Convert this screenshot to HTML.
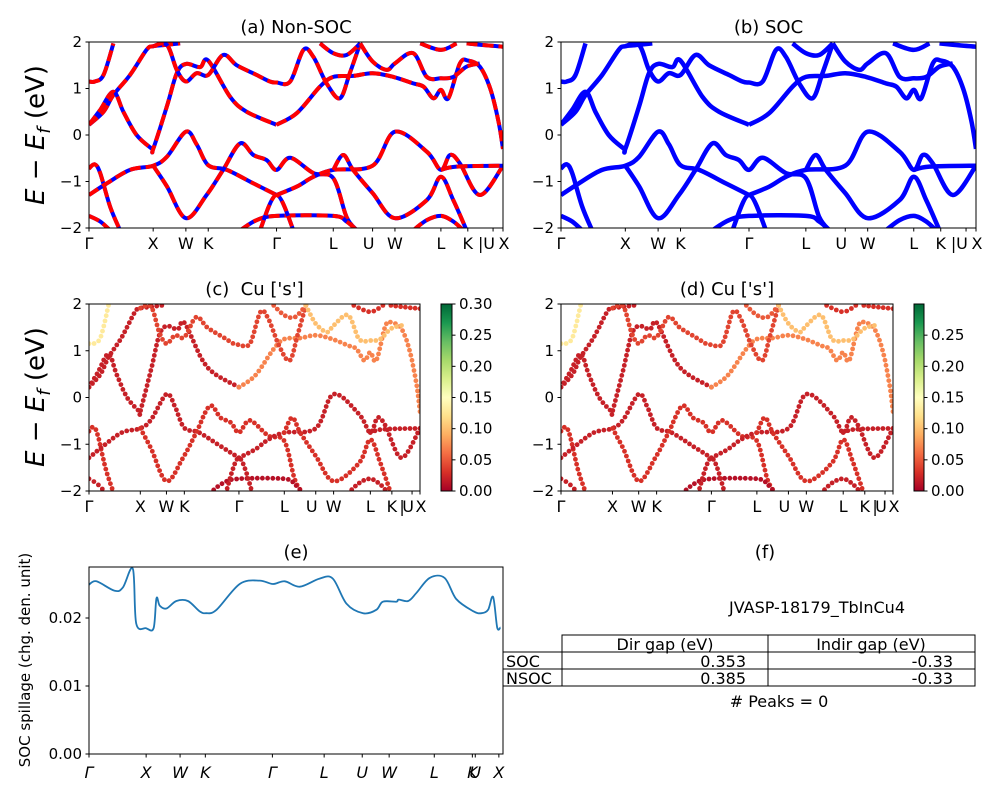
<!DOCTYPE html>
<html><head><meta charset="utf-8">
<style>
html,body{margin:0;padding:0;background:#fff;}
svg{display:block;font-family:"DejaVu Sans","Liberation Sans",sans-serif;}
</style></head>
<body>
<svg id="fig" width="1000" height="800" viewBox="0 0 1000 800" xmlns="http://www.w3.org/2000/svg">
<defs>
<linearGradient id="rdylgn" x1="0" y1="1" x2="0" y2="0">
<stop offset="0" stop-color="#a50026"/><stop offset="0.1" stop-color="#d73027"/><stop offset="0.2" stop-color="#f46d43"/><stop offset="0.3" stop-color="#fdae61"/><stop offset="0.4" stop-color="#fee08b"/><stop offset="0.5" stop-color="#ffffbf"/><stop offset="0.6" stop-color="#d9ef8b"/><stop offset="0.7" stop-color="#a6d96a"/><stop offset="0.8" stop-color="#66bd63"/><stop offset="0.9" stop-color="#1a9850"/><stop offset="1" stop-color="#006837"/>
</linearGradient>
</defs>
</svg>
<script>
// ---- data ----
const kTickPos = [0, .155, .234, .288, .453, .590, .685, .739, .850, .915, .946, .976, 1];
const kTickLabels = ["Γ","X","W","K","Γ","L","U","W","L","K","|","U","X"];
const eTicks = [2, 1, 0, -1, -2];
const eTickLabels = ["2","1","0","−1","−2"];

const bandK = [
 [0,.014,.027,.051,.075],
 [0,.043,.099,.155,.188,.234,.26,.288,.333,.397,.453],
 [.155,.188,.234,.284,.324,.365,.397,.429,.453,.486,.542,.59,.622,.647],
 [.453,.502,.542,.59,.685,.739,.816,.85,.872,.896,.944,1],
 [.59,.614,.638,.685,.739,.816,.85,.88,.912],
 [.85,.888,1],
 [0,.027,.051],
 [.365,.405,.453,.59,.622,.647],
 [.413,.453,.494],
 [.783,.816,.85,.88,.904],
 [0,.035,.059,.099,.139,.155,.188,.22],
 [0,.027,.059,.083,.115,.151,.155,.188,.212,.234,.268,.288,.341,.381,.453],
 [.453,.502,.558,.59,.638,.685,.735,.783,.808,.832,.85,.868,.896,.916,.944,.969,.989,1],
 [0,.014,.035,.059],
 [.155,.188,.212,.234,.26,.288,.324,.357,.405,.437,.453,.486,.518,.542,.574,.606,.63,.655],
 [.558,.59,.622,.655],
 [.655,.685,.719,.739,.783,.816,.85,.88,.912,.944],
 [.8,.85,.888],
 [.912,.944,1]
];
const bandE = [
 [-.72,-.63,-.82,-1.54,-2.05],
 [-1.29,-1.04,-.75,-.66,-.47,.07,-.2,-.65,-.75,-1.04,-1.29],
 [-.66,-1.1,-1.79,-1.29,-.75,-.18,-.43,-.54,-.75,-.49,-.82,-.93,-1.76,-2.05],
 [-1.29,-1.11,-.9,-.75,-.66,.07,-.36,-.75,-.43,-.61,-1.29,-.66],
 [-.75,-.43,-.75,-1.25,-1.79,-1.4,-.9,-1.4,-2.05],
 [-.75,-.68,-.66],
 [-1.74,-1.86,-2.05],
 [-2.05,-1.83,-1.74,-1.74,-1.86,-2.05],
 [-2.05,-1.29,-2.05],
 [-2.05,-1.83,-1.74,-1.86,-2.05],
 [.22,.5,.86,1.29,1.83,1.91,1.94,1.97],
 [.22,.54,.93,.5,0,-.29,-.3,.61,1.33,1.53,1.46,1.6,.82,.5,.22],
 [.22,.47,1.04,1.25,1.27,1.33,1.25,1.11,1.04,.79,.97,.79,1.54,1.6,1.47,1.0,.3,-.3],
 [1.15,1.15,1.29,1.97],
 [1.91,1.94,1.4,1.15,1.33,1.29,1.72,1.5,1.29,1.15,1.13,1.15,1.83,1.68,1.11,.79,1.33,1.97],
 [1.97,1.76,1.72,1.97],
 [1.97,1.58,1.4,1.54,1.76,1.25,1.22,1.25,1.47,1.54],
 [1.97,1.83,1.97],
 [1.97,1.94,1.9]
];
const bandWeight = [.03,.02,.03,.02,.03,.02,.02,.01,.02,.02,.02,.02,.07,.13,.04,.05,.10,.03,.03];

const spillK = [0,.018,.062,.082,.106,.114,.138,.156,.163,.171,.187,.211,.239,.267,.283,.308,.364,.412,.444,.473,.509,.557,.589,.622,.662,.694,.710,.742,.748,.771,.791,.823,.859,.887,.928,.948,.964,.976,.986,.994];
const spillV = [.0249,.0254,.0240,.0245,.0272,.0192,.0185,.0185,.0229,.0218,.0214,.0225,.0225,.0210,.0207,.0212,.0250,.0255,.0250,.0254,.0246,.0258,.0258,.0221,.0207,.0212,.0224,.0224,.0227,.0225,.0237,.0259,.0259,.0228,.0210,.0207,.0212,.0231,.0186,.0186];
const spillTicks = [0, .01, .02];
const spillTickLabels = ["0.00","0.01","0.02"];
const spillKTickPos = [0,.138,.22,.281,.443,.568,.660,.725,.834,.926,.933,.99];
const spillKTickLabels = ["Γ","X","W","K","Γ","L","U","W","L","K","U","X"];

// ---- helpers ----
const NS="http://www.w3.org/2000/svg";
const svg=document.getElementById("fig");
function mk(tag,attrs,parent){const e=document.createElementNS(NS,tag);for(const k in attrs)e.setAttribute(k,attrs[k]);(parent||svg).appendChild(e);return e;}
function txt(s,x,y,size,anchor,parent,extra){const t=mk("text",Object.assign({x:x,y:y,"font-size":size,"text-anchor":anchor||"middle",fill:"#000"},extra||{}),parent);t.textContent=s;return t;}
function smooth(pts){if(pts.length<2)return"";let d="M"+pts[0][0].toFixed(1)+","+pts[0][1].toFixed(1);
 for(let i=0;i<pts.length-1;i++){const p0=pts[i-1]||pts[i],p1=pts[i],p2=pts[i+1],p3=pts[i+2]||p2;
  const c1=[p1[0]+(p2[0]-p0[0])/6,p1[1]+(p2[1]-p0[1])/6],c2=[p2[0]-(p3[0]-p1[0])/6,p2[1]-(p3[1]-p1[1])/6];
  d+=" C"+c1[0].toFixed(1)+","+c1[1].toFixed(1)+" "+c2[0].toFixed(1)+","+c2[1].toFixed(1)+" "+p2[0].toFixed(1)+","+p2[1].toFixed(1);}
 return d;}
const cmapStops=[[0,[165,0,38]],[.1,[215,48,39]],[.2,[244,109,67]],[.3,[253,174,97]],[.4,[254,224,139]],[.5,[255,255,191]],[.6,[217,239,139]],[.7,[166,217,106]],[.8,[102,189,99]],[.9,[26,152,80]],[1,[0,104,55]]];
function cmap(t){t=Math.max(0,Math.min(1,t));for(let i=0;i<cmapStops.length-1;i++){const a=cmapStops[i],b=cmapStops[i+1];if(t<=b[0]){const f=(t-a[0])/(b[0]-a[0]);return"rgb("+a[1].map((v,j)=>Math.round(v+(b[1][j]-v)*f)).join(",")+")";}}return"rgb(0,104,55)";}

function bandPanel(name,x0,x1,y0,y1,mode,title,vmax){
 const g=mk("g",{});
 
 
 const sx=k=>x0+k*(x1-x0), sy=e=>y1-(e+2)/4*(y1-y0);
 const cid="clip-"+name;
 const cp=mk("clipPath",{id:cid},g);mk("rect",{x:x0,y:y0,width:x1-x0,height:y1-y0},cp);
 const plot=mk("g",{"clip-path":"url(#"+cid+")"},g);
 
 
 for(let b=0;b<bandK.length;b++){
  const pts=bandK[b].map((k,i)=>[sx(k),sy(bandE[b][i])]);
  const d=smooth(pts);
  if(mode==="dash"){
   const p1=mk("path",{d:d,fill:"none",stroke:"#0000ff","stroke-width":4},plot);
   
   
   const p2=mk("path",{d:d,fill:"none",stroke:"#ff0000","stroke-width":4,"stroke-dasharray":"11,5"},plot);
   
   
  }else if(mode==="solid"){
   const p=mk("path",{d:d,fill:"none",stroke:"#0000ff","stroke-width":4.5},plot);
   
   
  }else{
   const tmp=mk("path",{d:d,fill:"none",stroke:"none"},plot);
   const L=tmp.getTotalLength();const n=Math.max(2,Math.round(L/5.2));
   for(let i=0;i<=n;i++){const p=tmp.getPointAtLength(L*i/n);
    const c=mk("circle",{cx:p.x.toFixed(1),cy:p.y.toFixed(1),r:2.4,fill:cmap(bandWeight[b]/vmax)},plot);
    
    }
   plot.removeChild(tmp);
  }
 }
 mk("rect",{x:x0,y:y0,width:x1-x0,height:y1-y0,fill:"none",stroke:"#000","stroke-width":1},g);
 kTickPos.forEach((k,i)=>{const x=sx(k);const lab=kTickLabels[i];
  if(lab!=="|")mk("line",{x1:x,y1:y1,x2:x,y2:y1+3.5,stroke:"#000"},g);
  let tx=x;
  if(lab==="U")tx=x-4; if(lab==="X"&&k===1)tx=x+1;
  const t=txt(lab,tx,y1+21,16,"middle",g);
  
  });
 eTicks.forEach((e,i)=>{const y=sy(e);mk("line",{x1:x0-3.5,y1:y,x2:x0,y2:y,stroke:"#000"},g);
  const t=txt(eTickLabels[i],x0-7,y+5,15,"end",g);
  
  });
 const tt=txt(title,(x0+x1)/2,y0-9,18,"middle",g);
 
 
 return g;
}

function colorbar(name,x0,x1,y0,y1,vmax,ticks){
 const g=mk("g",{});
 
 
 mk("rect",{x:x0,y:y0,width:x1-x0,height:y1-y0,fill:"url(#rdylgn)",stroke:"#000","stroke-width":1},g);
 ticks.forEach(v=>{const y=y1-v/vmax*(y1-y0);mk("line",{x1:x1,y1:y,x2:x1+3.5,y2:y,stroke:"#000"},g);
  const t=txt(v.toFixed(2),x1+7,y+5,15,"start",g);
  
  });
}

bandPanel("panel-a-non-soc",89,503,42,228,"dash","(a) Non-SOC");
bandPanel("panel-b-soc",561,976,42,228,"solid","(b) SOC");
bandPanel("panel-c-cu-s",89,420,304,491,"dots","(c)\u00a0\u00a0Cu ['s']",0.30);
bandPanel("panel-d-cu-s",561,893,304,491,"dots","(d) Cu ['s']",0.30);
colorbar("colorbar-c",441,452,304,491,0.30,[0,.05,.10,.15,.20,.25,.30]);
colorbar("colorbar-d",914,924,304,491,0.30,[0,.05,.10,.15,.20,.25]);

// y axis titles
[135,397].forEach(cy=>{const t=mk("text",{x:0,y:0,"font-size":26,"text-anchor":"middle",transform:"translate(44,"+cy+") rotate(-90)"});
 
 
 t.innerHTML='<tspan font-style="italic">E</tspan> − <tspan font-style="italic">E</tspan><tspan font-style="italic" font-size="18" dy="6">f</tspan><tspan dy="-6"> (eV)</tspan>';});

// panel e
(function(){
 const x0=89,x1=503,y0=567,y1=754,vmax=0.0275;
 const g=mk("g",{});
 
 
 const sx=k=>x0+k*(x1-x0), sy=v=>y1-v/vmax*(y1-y0);
 const d=smooth(spillK.map((k,i)=>[sx(k),sy(spillV[i])]));
 const p=mk("path",{d:d,fill:"none",stroke:"#1f77b4","stroke-width":1.8,"stroke-linejoin":"round"},g);
 
 
 mk("rect",{x:x0,y:y0,width:x1-x0,height:y1-y0,fill:"none",stroke:"#000"},g);
 spillTicks.forEach((v,i)=>{const y=sy(v);mk("line",{x1:x0-3.5,y1:y,x2:x0,y2:y,stroke:"#000"},g);
  const t=txt(spillTickLabels[i],x0-7,y+5,15,"end",g);
  
  });
 spillKTickPos.forEach((k,i)=>{const x=sx(k);mk("line",{x1:x,y1:y1,x2:x,y2:y1+3.5,stroke:"#000"},g);
  const t=txt(spillKTickLabels[i],x,y1+24,16,"middle",g,{"font-style":"italic"});
  
  });
 const tt=txt("(e)",(x0+x1)/2,y0-9,18,"middle",g);
 
 
 const yt=mk("text",{x:0,y:0,"font-size":15,"text-anchor":"middle",transform:"translate(30,660) rotate(-90)"},g);
 yt.textContent="SOC spillage (chg. den. unit)";
 
 
})();

// panel f table
(function(){
 const g=mk("g",{});
 
 
 let t=txt("(f)",765,558,18,"middle",g);
 
 
 t=txt("JVASP-18179_TbInCu4",817,613,16,"middle",g);
 
 
 const L="#000";
 mk("rect",{x:562,y:635,width:206,height:17,fill:"none",stroke:L},g);
 mk("rect",{x:768,y:635,width:207,height:17,fill:"none",stroke:L},g);
 [[652,"SOC","0.353","-0.33"],[669,"NSOC","0.385","-0.33"]].forEach(r=>{
  mk("rect",{x:503,y:r[0],width:59,height:17,fill:"none",stroke:L},g);
  mk("rect",{x:562,y:r[0],width:206,height:17,fill:"none",stroke:L},g);
  mk("rect",{x:768,y:r[0],width:207,height:17,fill:"none",stroke:L},g);
  let a=txt(r[1],506,r[0]+15,16,"start",g);
  a=txt(r[2],746,r[0]+15,16,"end",g);
  a=txt(r[3],953,r[0]+15,16,"end",g);
 });
 t=txt("Dir gap (eV)",665,650,16,"middle",g);
 t=txt("Indir gap (eV)",871,650,16,"middle",g);
 t=txt("# Peaks = 0",779,707,16,"middle",g);
})();
</script>
</body></html>
